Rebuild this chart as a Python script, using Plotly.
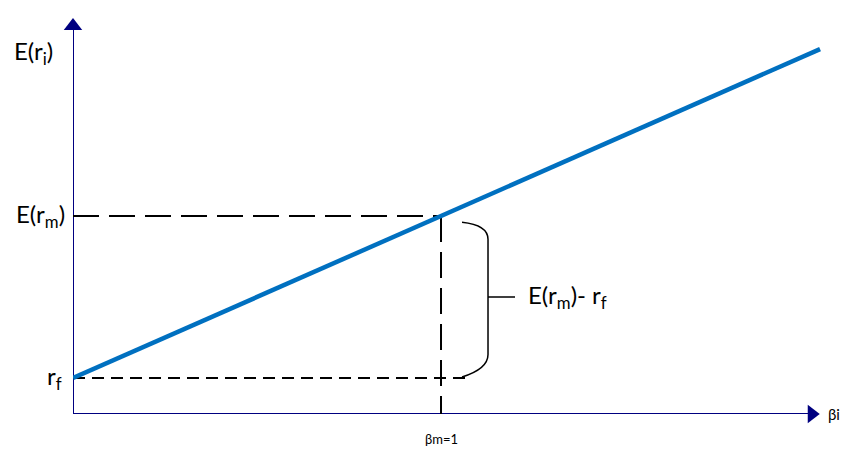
import plotly.graph_objects as go

# CAPM security market line
beta_line = [0.0, 2.03]
rf = 2.0
er_m = 11.0
beta_m = 1.0
x_max = 2.038
y_max = 22.33

sml_y = [rf + (er_m - rf) * b for b in beta_line]

axis_col = "#000080"
font = "Lato"

fig = go.Figure()

# axes drawn as lines with triangle heads
fig.add_trace(go.Scatter(x=[0, 0], y=[0, y_max * 0.97], mode="lines",
                         line=dict(color=axis_col, width=2), hoverinfo="skip",
                         cliponaxis=False))
fig.add_trace(go.Scatter(x=[0, x_max * 0.98], y=[0, 0], mode="lines",
                         line=dict(color=axis_col, width=2), hoverinfo="skip",
                         cliponaxis=False))
fig.add_trace(go.Scatter(x=[0], y=[y_max * 0.965], mode="markers",
                         marker=dict(symbol="triangle-up", size=16, color=axis_col),
                         hoverinfo="skip", cliponaxis=False))
fig.add_trace(go.Scatter(x=[x_max * 0.985], y=[0], mode="markers",
                         marker=dict(symbol="triangle-right", size=16, color=axis_col),
                         hoverinfo="skip", cliponaxis=False))

# dashed guides
fig.add_trace(go.Scatter(x=[0, beta_m], y=[er_m, er_m], mode="lines",
                         line=dict(color="black", width=2, dash="26px,10px"), hoverinfo="skip"))
fig.add_trace(go.Scatter(x=[beta_m, beta_m], y=[er_m, 0], mode="lines",
                         line=dict(color="black", width=2, dash="26px,10px"), hoverinfo="skip"))
fig.add_trace(go.Scatter(x=[0, beta_m * 1.08], y=[rf, rf], mode="lines",
                         line=dict(color="black", width=2, dash="12px,7px"), hoverinfo="skip"))

# SML
fig.add_trace(go.Scatter(x=beta_line, y=sml_y, mode="lines",
                         line=dict(color="#0070C0", width=4.5), hoverinfo="skip"))

# brace between rf and E(rm)
bx0 = beta_m + 21 / 368
bx1 = beta_m + 47 / 368
btip = beta_m + 74 / 368
mid = (rf + er_m) / 2
c = 1.0
brace = (f"M {bx0},{er_m - 0.35} Q {bx1},{er_m - 0.5} {bx1},{er_m - c - 0.3} "
         f"L {bx1},{rf + c + 0.3} Q {bx1},{rf + 0.5} {bx0},{rf + 0.05} "
         f"M {bx1},{mid} L {btip},{mid}")
fig.add_shape(type="path", path=brace, xref="x", yref="y",
              line=dict(color="black", width=1.5))

txt = dict(family=font, size=24, color="black")
fig.add_annotation(x=0, y=y_max * 0.9, xref="x", yref="y", text="E(r<sub>i</sub>)",
                   showarrow=False, xanchor="right", xshift=-18, font=txt)
fig.add_annotation(x=0, y=er_m, text="E(r<sub>m</sub>)", showarrow=False,
                   xanchor="right", xshift=-6, font=txt)
fig.add_annotation(x=0, y=rf, text="r<sub>f</sub>", showarrow=False,
                   xanchor="right", xshift=-9, font=txt)
fig.add_annotation(x=btip, y=mid, text="E(r<sub>m</sub>)- r<sub>f</sub>", showarrow=False,
                   xanchor="left", xshift=11, font=txt)
fig.add_annotation(x=beta_m, y=0, text="βm=1", showarrow=False, yanchor="top",
                   yshift=-15, font=dict(family=font, size=13, color="black"))
fig.add_annotation(x=x_max, y=0, text="βi", showarrow=False, xanchor="left",
                   xshift=3, font=dict(family=font, size=15, color="black"))

fig.update_xaxes(range=[0, x_max], visible=False)
fig.update_yaxes(range=[0, y_max], visible=False)
fig.update_layout(width=840, height=442, showlegend=False,
                  margin=dict(l=65, r=25, t=4, b=36),
                  plot_bgcolor="white", paper_bgcolor="white")

fig.write_html("out.html")
